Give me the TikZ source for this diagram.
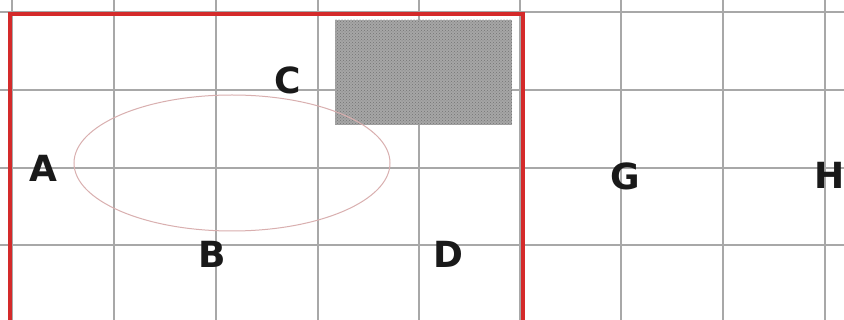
\documentclass[tikz,border=0pt]{standalone}
\usepackage{fontspec}
\setmainfont{DejaVu Sans}
\usetikzlibrary{patterns}
\definecolor{gridgray}{HTML}{A8A8A8}
\definecolor{frame}{HTML}{D42A2A}
\definecolor{ellc}{HTML}{D9AFAF}
\tikzset{
  gridline/.style={draw=gridgray, line width=1.5pt},
  label/.style={font=\fontsize{36}{36}\selectfont\bfseries, text=black!90, inner sep=0pt},
}
\begin{document}
\begin{tikzpicture}[x=1pt,y=-1pt]
\useasboundingbox (0,0) rectangle (844,320);
\fill[white] (0,0) rectangle (844,320);
% grid
\foreach \x in {12,114,216,318,419,520,621,723,825}
  \draw[gridline] (\x,0) -- (\x,320);
\foreach \y in {12,90,168,245}
  \draw[gridline] (0,\y) -- (844,\y);
% shaded rectangle
\fill[gray!70] (335,20) rectangle (512,125);
\fill[pattern=crosshatch dots, pattern color=black!55] (335,20) rectangle (512,125);
% ellipse
\draw[ellc, line width=1pt] (232,163) ellipse [x radius=158, y radius=68];
% red frame
\draw[frame, line width=3.5pt] (10,320) -- (10,14) -- (523,14) -- (523,320);
% labels
\node[label] (A) at (43,168) {A};
\node[label] (B) at (212,254) {B};
\node[label] (C) at (288,80) {C};
\node[label] (D) at (448,254) {D};
\node[label] (G) at (625,176) {G};
\node[label] (H) at (830,175) {H};
\end{tikzpicture}
\end{document}
